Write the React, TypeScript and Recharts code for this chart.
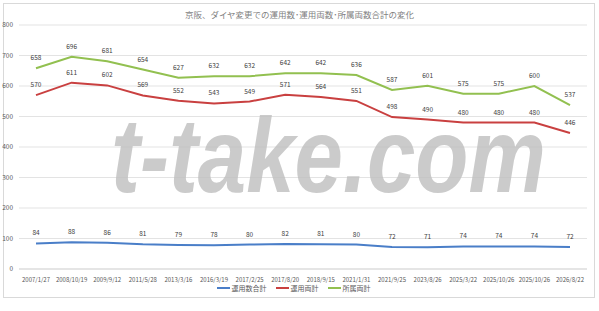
import React from "react";
import { LineChart, Line, XAxis, YAxis, CartesianGrid, Legend, LabelList } from "recharts";

const dates = [
  "2007/1/27", "2008/10/19", "2009/9/12", "2011/5/28", "2013/3/16", "2016/3/19",
  "2017/2/25", "2017/8/20", "2018/9/15", "2021/1/31", "2021/9/25", "2023/8/26",
  "2025/3/22", "2025/10/26", "2025/10/26", "2026/8/22",
];
const unyoSu = [84, 88, 86, 81, 79, 78, 80, 82, 81, 80, 72, 71, 74, 74, 74, 72];
const unyoRyo = [570, 611, 602, 569, 552, 543, 549, 571, 564, 551, 498, 490, 480, 480, 480, 446];
const shozokuRyo = [658, 696, 681, 654, 627, 632, 632, 642, 642, 636, 587, 601, 575, 575, 600, 537];
const yTicks = [0, 100, 200, 300, 400, 500, 600, 700, 800];

const title = "京阪、ダイヤ変更での運用数･運用両数･所属両数合計の変化";
const names = ["運用数合計", "運用両計", "所属両計"];
const colors = ["#4a7ec8", "#c94040", "#92c050"];

const data = dates.map((d, i) => ({
  date: d,
  a: unyoSu[i],
  b: unyoRyo[i],
  c: shozokuRyo[i],
}));

const font = "'Noto Sans CJK JP', 'Noto Sans', sans-serif";

const ValueLabel = (p: any) => {
  const x = p.x ?? p.viewBox?.x;
  const y = p.y ?? p.viewBox?.y;
  if (x == null || y == null) return null;
  return (
    <text x={x} y={y - 8} textAnchor="middle" fontSize={6.5} fontFamily={font} fill="#404040">
      {p.value}
    </text>
  );
};

const LegendContent = () => (
  <div style={{ display: "flex", justifyContent: "center", gap: 9, fontSize: 7, color: "#595959", fontFamily: font }}>
    {names.map((n, i) => (
      <div key={n} style={{ display: "flex", alignItems: "center" }}>
        <div style={{ width: 13, height: 2, background: colors[i], marginRight: 2 }} />
        <span>{n}</span>
      </div>
    ))}
  </div>
);

export default function App() {
  return (
    <div style={{ position: "absolute", left: 0, top: 0, width: 599, height: 311, background: "#fff", overflow: "hidden", fontFamily: font }}>
      <div style={{ position: "absolute", left: 3, top: 3, width: 592, height: 295, border: "1px solid #d9d9d9", boxSizing: "border-box" }} />
      <div style={{ position: "absolute", left: 0, top: 8, width: 599, textAlign: "center", fontSize: 8.5, color: "#7f7f7f" }}>
        {title}
      </div>
      <div style={{ position: "absolute", left: 0, top: 0 }}>
        <LineChart width={599} height={311} data={data} margin={{ top: 25, right: 12, left: 0, bottom: 16 }}>
          <CartesianGrid vertical={false} stroke="#e3e3e3" />
          <XAxis
            dataKey="date"
            interval={0}
            padding={{ left: 17, right: 17 }}
            tick={{ fontSize: 6, fill: "#595959", fontFamily: font }}
            tickLine={false}
            axisLine={{ stroke: "#d9d9d9" }}
            height={12}
            tickMargin={3}
          />
          <YAxis
            domain={[0, 800]}
            ticks={yTicks}
            width={19}
            tick={{ fontSize: 6.5, fill: "#595959", fontFamily: font }}
            tickLine={false}
            axisLine={false}
            tickSize={0}
            tickMargin={6}
          />
          <Legend
            verticalAlign="bottom"
            height={14}
            content={() => <LegendContent />}
            wrapperStyle={{ top: 283 }}
          />
          <Line type="linear" dataKey="a" name={names[0]} stroke={colors[0]} strokeWidth={2} dot={false} isAnimationActive={false}>
            <LabelList dataKey="a" content={ValueLabel} />
          </Line>
          <Line type="linear" dataKey="b" name={names[1]} stroke={colors[1]} strokeWidth={2} dot={false} isAnimationActive={false}>
            <LabelList dataKey="b" content={ValueLabel} />
          </Line>
          <Line type="linear" dataKey="c" name={names[2]} stroke={colors[2]} strokeWidth={2} dot={false} isAnimationActive={false}>
            <LabelList dataKey="c" content={ValueLabel} />
          </Line>
        </LineChart>
      </div>
      <div
        style={{
          position: "absolute",
          left: 111,
          top: 102,
          fontFamily: "'Liberation Sans', Arial, sans-serif",
          fontWeight: "bold",
          fontStyle: "italic",
          fontSize: 106,
          color: "rgba(190,190,190,0.8)",
          transform: "scaleX(0.82)",
          transformOrigin: "left top",
          whiteSpace: "nowrap",
          lineHeight: 1,
          pointerEvents: "none",
        }}
      >
        t-take.com
      </div>
    </div>
  );
}
